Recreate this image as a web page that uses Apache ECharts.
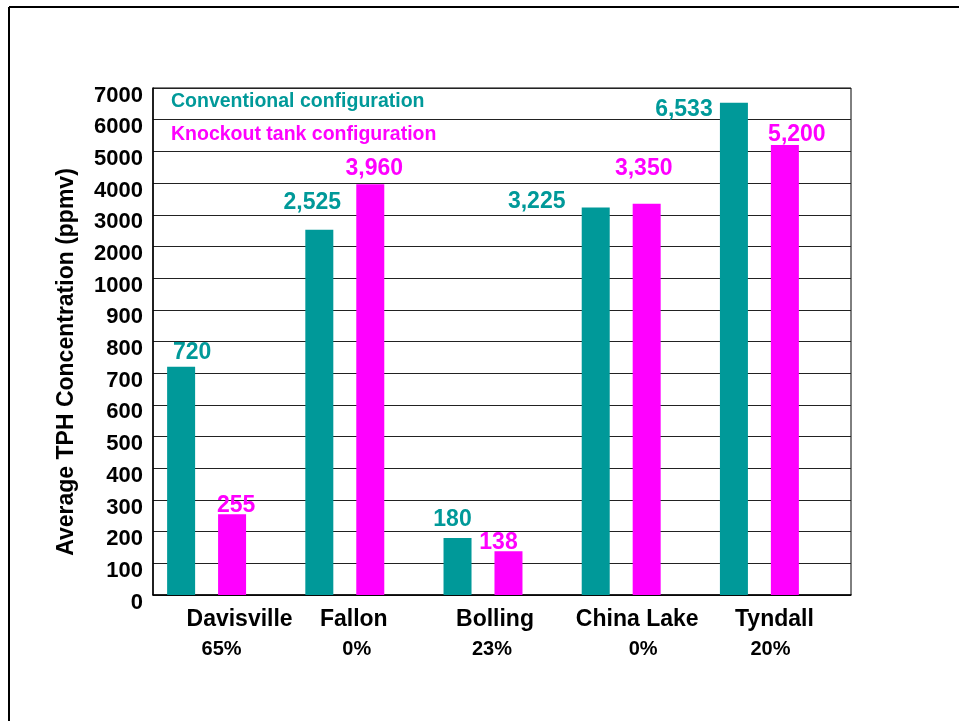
<!DOCTYPE html>
<html><head><meta charset="utf-8">
<script src="https://cdn.jsdelivr.net/npm/echarts@6/dist/echarts.min.js"></script>
<style>html,body{margin:0;padding:0;background:#fff}#c{width:959px;height:721px}</style>
</head><body><div id="c"></div>
<script>
// ---- data ----
const sites = ['Davisville', 'Fallon', 'Bolling', 'China Lake', 'Tyndall'];
const sitePercents = ['65%', '0%', '23%', '0%', '20%'];
const conventional = [720, 2525, 180, 3225, 6533];
const knockout = [255, 3960, 138, 3350, 5200];
const yTickValues = [0, 100, 200, 300, 400, 500, 600, 700, 800, 900, 1000, 2000, 3000, 4000, 5000, 6000, 7000];
const seriesNames = ['Conventional configuration', 'Knockout tank configuration'];

// ---- styles ----
const TEAL = '#009999';
const MAGENTA = '#FF00FF';
const FONT = '"Liberation Sans", Arial, Helvetica, sans-serif';
const tealLabelOffsets = [[11, -3], [-7, -16], [-5, -7], [-59, 6], [-50, 18]];
const magLabelOffsets = [[4, 3], [4, -4], [-10, 3], [-3, -24], [12, 1]];
const nameShift = [33, 9, 12, 16, 15];
const pctShift = [15, 12, 9, 22, 11];

// piecewise-linear axis: each tick interval is one axis unit
function toAxis(v) {
  for (let i = 0; i < yTickValues.length - 1; i++) {
    const a = yTickValues[i], b = yTickValues[i + 1];
    if (v <= b) return i + (v - a) / (b - a);
  }
  return yTickValues.length - 1;
}
function fmt(v) { return v.toLocaleString('en-US'); }

const rich = {};
sites.forEach((s, i) => {
  rich['n' + i] = { fontFamily: FONT, fontSize: 23, fontWeight: 'bold', color: '#000', lineHeight: 29, align: 'center', padding: [0, 0, 0, 2 * nameShift[i]] };
  rich['p' + i] = { fontFamily: FONT, fontSize: 20, fontWeight: 'bold', color: '#000', lineHeight: 29, align: 'center', padding: [0, 0, 0, 2 * pctShift[i]] };
});

function makeData(vals, offsets) {
  return vals.map((v, i) => ({ value: toAxis(v), raw: v, label: { offset: offsets[i] } }));
}

const chart = echarts.init(document.getElementById('c'), null, { renderer: 'canvas' });
chart.setOption({
  backgroundColor: '#fff',
  animation: false,
  textStyle: { fontFamily: FONT },
  legend: {
    orient: 'vertical', left: 166, top: 90, padding: 0, itemGap: 9,
    icon: 'none', itemWidth: 0, itemHeight: 0, selectedMode: false,
    textStyle: { fontFamily: FONT, fontSize: 19.5, fontWeight: 'bold', lineHeight: 24 },
    data: [
      { name: seriesNames[0], textStyle: { color: TEAL } },
      { name: seriesNames[1], textStyle: { color: MAGENTA } }
    ]
  },
  grid: [
    { left: 153, top: 88, width: 698, height: 507, show: true, borderColor: '#000', borderWidth: 1, backgroundColor: 'transparent' },
    { left: 137.5, top: 88, width: 691, height: 507, show: false }
  ],
  xAxis: [
    { gridIndex: 0, type: 'category', data: sites, axisLine: { show: true, lineStyle: { color: '#000', width: 1.5 } }, axisTick: { show: false }, axisLabel: { show: false } },
    { gridIndex: 1, type: 'category', data: sites, axisLine: { show: false }, axisTick: { show: false },
      axisLabel: { margin: 10.5, interval: 0, formatter: (v, i) => `{n${i}|${v}}\n{p${i}|${sitePercents[i]}}`, rich: rich } }
  ],
  yAxis: [
    { gridIndex: 0, type: 'value', min: 0, max: yTickValues.length - 1, interval: 1,
      axisLine: { show: true, lineStyle: { color: '#000', width: 1.5 } }, axisTick: { show: false },
      splitLine: { show: true, lineStyle: { color: '#222', width: 1 } },
      axisLabel: { margin: 10, color: '#000', fontFamily: FONT, fontSize: 22, fontWeight: 'bold',
        verticalAlign: 'top', lineHeight: 15,
        formatter: v => String(yTickValues[Math.round(v)]) } },
    { gridIndex: 1, type: 'value', min: 0, max: yTickValues.length - 1, interval: 1, show: false, splitLine: { show: false } }
  ],
  graphic: [
    { type: 'line', shape: { x1: 9, y1: 7, x2: 959, y2: 7 }, style: { stroke: '#000', lineWidth: 2 } },
    { type: 'line', shape: { x1: 9, y1: 7, x2: 9, y2: 721 }, style: { stroke: '#000', lineWidth: 2 } },
    { type: 'text', x: 67, y: 362, rotation: Math.PI / 2,
      style: { text: 'Average TPH Concentration (ppmv)', fill: '#000', font: 'bold 23px ' + FONT, textAlign: 'center', textVerticalAlign: 'middle' } }
  ],
  series: [
    { name: seriesNames[0], type: 'bar', xAxisIndex: 1, yAxisIndex: 1, barWidth: 28, barGap: '82%',
      itemStyle: { color: TEAL }, data: makeData(conventional, tealLabelOffsets),
      label: { show: true, position: 'top', distance: 0, color: TEAL, fontFamily: FONT, fontSize: 23, fontWeight: 'bold', lineHeight: 23,
        formatter: p => fmt(p.data.raw) } },
    { name: seriesNames[1], type: 'bar', xAxisIndex: 1, yAxisIndex: 1, barWidth: 28, barGap: '82%',
      itemStyle: { color: MAGENTA }, data: makeData(knockout, magLabelOffsets),
      label: { show: true, position: 'top', distance: 0, color: MAGENTA, fontFamily: FONT, fontSize: 23, fontWeight: 'bold', lineHeight: 23,
        formatter: p => fmt(p.data.raw) } }
  ]
});
</script></body></html>
